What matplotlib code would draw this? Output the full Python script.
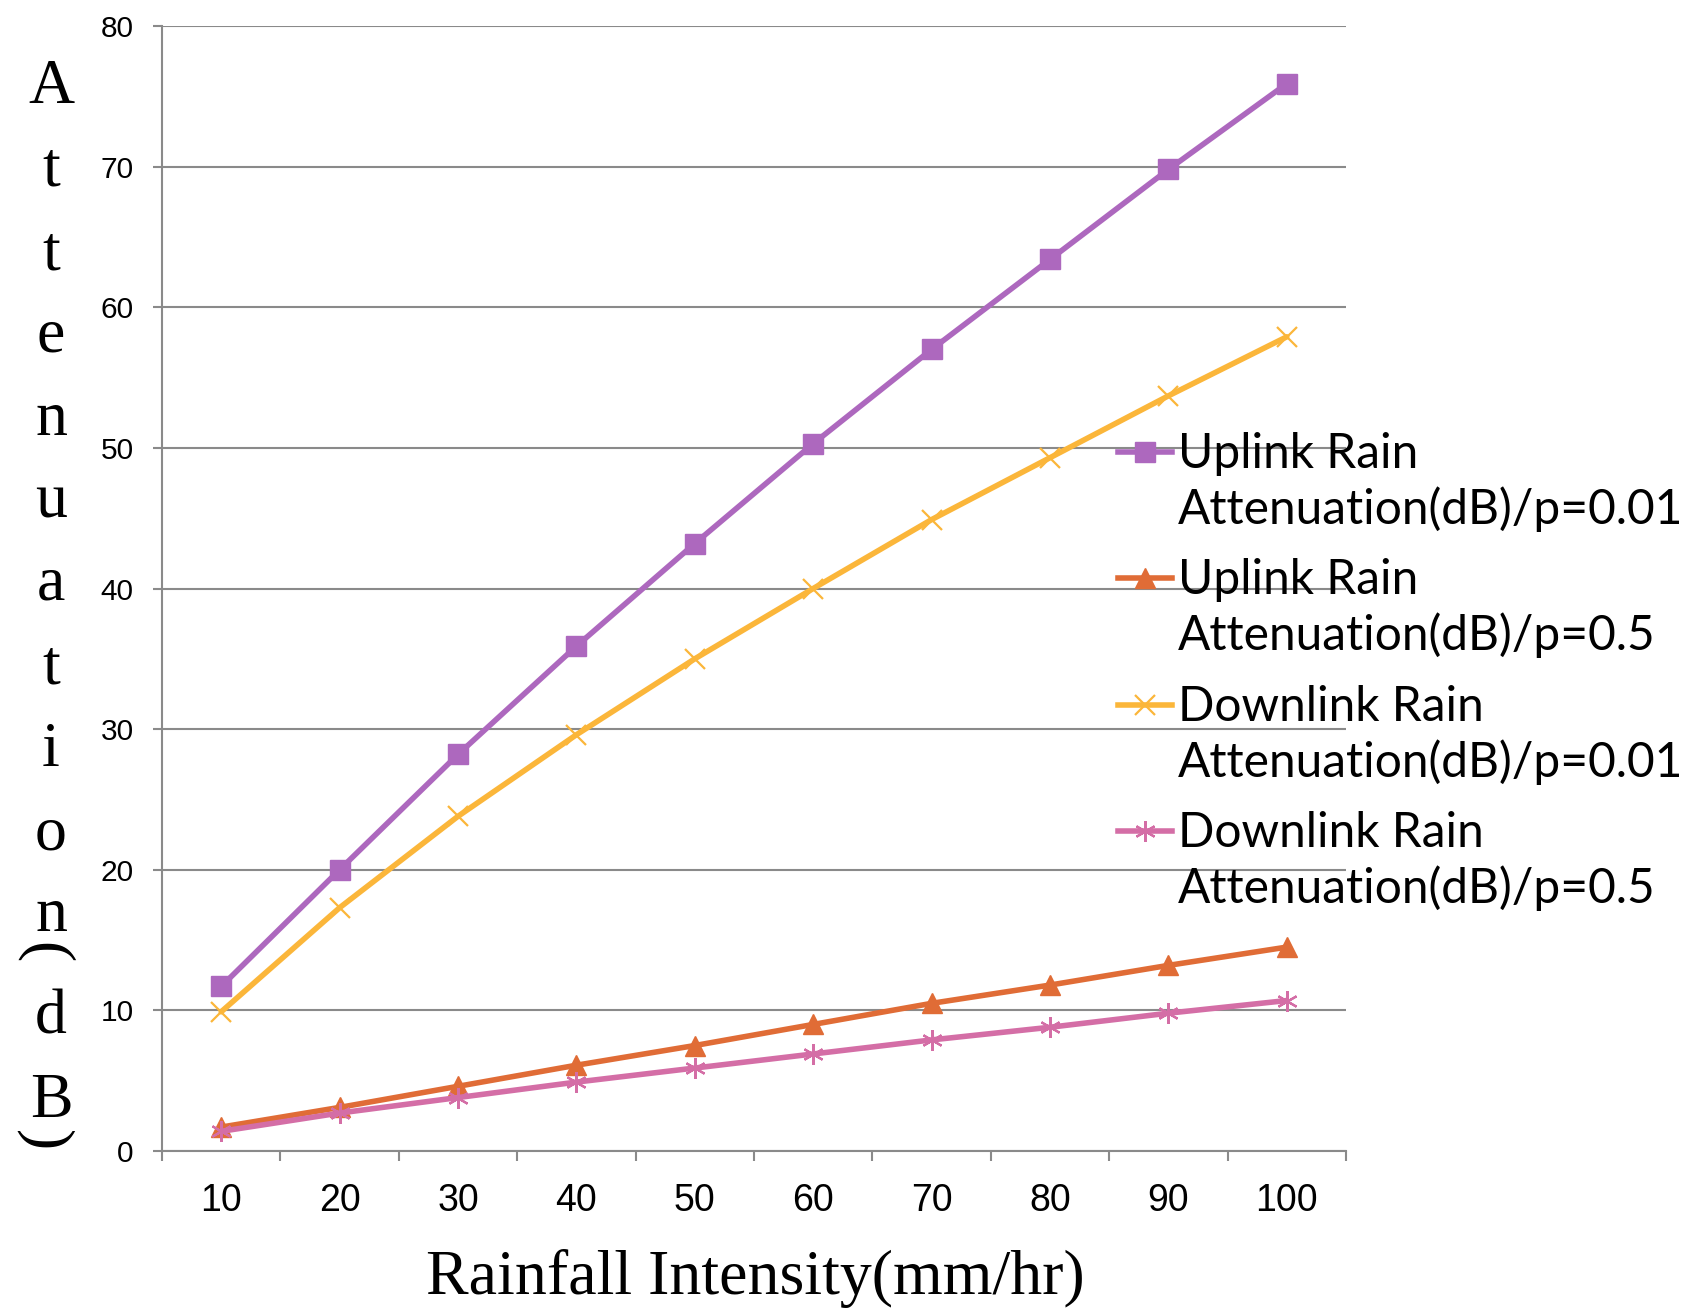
import matplotlib
matplotlib.use("Agg")
import matplotlib.pyplot as plt
import numpy as np
from matplotlib.lines import Line2D
from matplotlib.ticker import NullFormatter

# ==== data ====
rain = [10, 20, 30, 40, 50, 60, 70, 80, 90, 100]
up_001 = [11.7, 20.0, 28.2, 35.9, 43.2, 50.3, 57.0, 63.4, 69.8, 75.9]
up_05 = [1.7, 3.1, 4.6, 6.1, 7.5, 9.0, 10.5, 11.8, 13.2, 14.5]
down_001 = [9.9, 17.3, 23.8, 29.6, 35.0, 40.0, 44.9, 49.3, 53.7, 57.9]
down_05 = [1.4, 2.7, 3.8, 4.9, 5.9, 6.9, 7.9, 8.8, 9.8, 10.7]

labels = [
    "Uplink Rain\nAttenuation(dB)/p=0.01",
    "Uplink Rain\nAttenuation(dB)/p=0.5",
    "Downlink Rain\nAttenuation(dB)/p=0.01",
    "Downlink Rain\nAttenuation(dB)/p=0.5",
]

# ==== styles ====
GRAY = "#8a8a8a"
SERIF = "Liberation Serif"
TICKFONT = ["Liberation Sans Narrow", "Liberation Sans", "DejaVu Sans"]
LEGFONT = ["Lato", "DejaVu Sans"]
styles = [
    dict(color="#ad68be", marker="s", ms=14, mew=1),
    dict(color="#e06c36", marker="^", ms=14, mew=1),
    dict(color="#fbb63a", marker="x", ms=14, mew=1.6),
    dict(color="#d46ea6", marker=(6, 2, 0), ms=15, mew=1.6),
]

W, H = 1694, 1309
fig = plt.figure(figsize=(W / 100, H / 100), dpi=100)
ax = fig.add_axes([162 / W, 1 - 1151 / H, (1346 - 162) / W, (1151 - 26) / H])

x = np.arange(len(rain))
for vals, st in zip([up_001, up_05, down_001, down_05], styles):
    ax.plot(x, vals, lw=4, color=st["color"], marker=st["marker"],
            ms=st["ms"], mew=st["mew"], mec=st["color"], mfc=st["color"],
            solid_capstyle="round", solid_joinstyle="round", clip_on=False)

ax.set_xlim(-0.5, len(rain) - 0.5)
ax.set_ylim(0, 80)
ax.set_yticks(range(0, 81, 10))
ax.yaxis.grid(True, color=GRAY, lw=1.5)
ax.set_axisbelow(True)

for s in ["top", "right"]:
    ax.spines[s].set_visible(False)
for s in ["left", "bottom"]:
    ax.spines[s].set_color(GRAY)
    ax.spines[s].set_linewidth(1.5)

ax.set_xticks(np.arange(-0.5, len(rain), 1))
ax.xaxis.set_major_formatter(NullFormatter())
ax.set_xticks(x, minor=True)
ax.set_xticklabels([str(r) for r in rain], minor=True)
ax.tick_params(axis="x", which="major", direction="out", length=7, width=1.5, color=GRAY)
ax.tick_params(axis="x", which="minor", length=0, pad=23, labelsize=27,
               labelfontfamily=TICKFONT)
ax.tick_params(axis="y", direction="out", length=6.5, width=1.5, color=GRAY,
               pad=14, labelsize=21.5, labelfontfamily=TICKFONT)

# ==== legend (handle aligned with first text line) ====
leg_y0, leg_step = 452, 126.3
for i, (lab, st) in enumerate(zip(labels, styles)):
    yh = leg_y0 + i * leg_step
    fig.add_artist(Line2D([1118 / W, 1145 / W, 1172 / W], [1 - yh / H] * 3,
                          transform=fig.transFigure, lw=4, color=st["color"],
                          marker=st["marker"], markevery=[1], ms=st["ms"],
                          mew=st["mew"], mec=st["color"], mfc=st["color"]))
    for j, line in enumerate(lab.split("\n")):
        fig.text(1178 / W, 1 - (yh + 16 + 56 * j) / H, line, fontsize=34.5,
                 family=LEGFONT, ha="left", va="baseline")

# ==== stacked y label ====
ychars = list("Attenuation(dB)")
ypos = [103, 186, 269, 352, 435, 518, 600, 683, 766, 849, 931, 953, 1033, 1117, 1141]
for ch, yp in zip(ychars, ypos):
    if ch in "()":
        fig.text(44 / W, 1 - yp / H, ch, rotation=-90, ha="center", va="center",
                 fontsize=46, family=SERIF)
    else:
        fig.text(51 / W, 1 - yp / H, ch, ha="center", va="baseline",
                 fontsize=46, family=SERIF)

fig.text(755 / W, 1 - 1294 / H, "Rainfall Intensity(mm/hr)", ha="center",
         va="baseline", fontsize=46, family=SERIF)

fig.savefig("out.png", dpi=100)
